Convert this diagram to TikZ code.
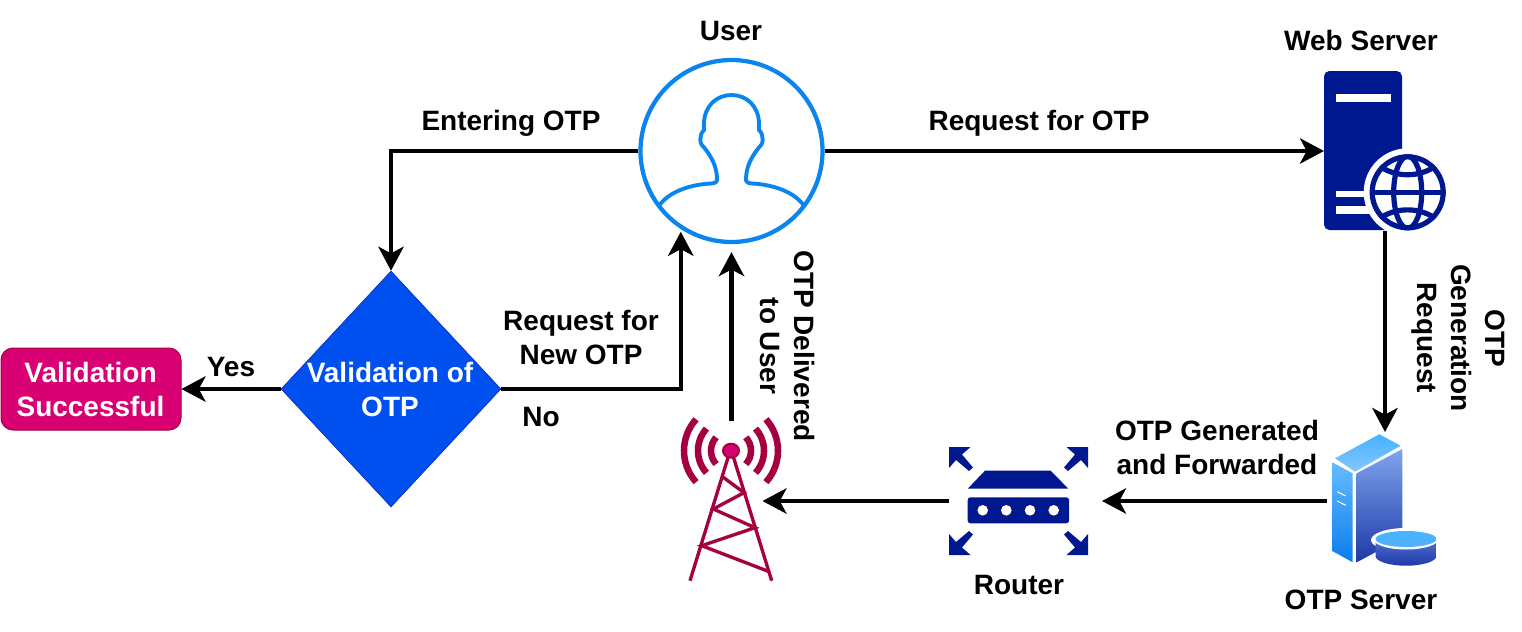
\documentclass[tikz,border=0pt]{standalone}
\usepackage{fontspec}
\setmainfont{Liberation Sans}
\usepackage{xcolor}
\usetikzlibrary{arrows.meta,shapes.geometric}
\definecolor{iconblue}{HTML}{00188F}
\definecolor{userblue}{HTML}{0A85F0}
\definecolor{towerred}{HTML}{A50040}
\definecolor{towerpink}{HTML}{D80073}
\definecolor{diamondblue}{HTML}{0050EF}
\definecolor{diamondline}{HTML}{001DBC}
\definecolor{skytop}{HTML}{45B4FF}
\definecolor{skylow}{HTML}{86C5FF}
\definecolor{paneltop}{HTML}{66BBFF}
\definecolor{panellow}{HTML}{0A7DF0}
\definecolor{sidetop}{HTML}{7FA5EC}
\definecolor{sidemid}{HTML}{4F70CF}
\definecolor{sidelow}{HTML}{1F38A8}
\tikzset{
  conn/.style={line width=3.2pt, -{Stealth[length=18pt,width=19pt,inset=5pt]}},
  lbl/.style={font=\bfseries\fontsize{21}{25.5}\selectfont, align=center, inner sep=0pt},
  icon/.style={inner sep=0pt, outer sep=0pt},
}

\begin{document}
\begin{tikzpicture}[x=0.75pt, y=-0.75pt]
\useasboundingbox (0,0) rectangle (1522,632);

\node[circle, draw=userblue, fill=white, line width=3.2pt, inner sep=0pt, minimum size=136.5pt] (user) at (731.5,151) {};
\begin{scope}[shift={(731.5,151)}, draw=userblue, line width=2.9pt]
\draw (-72,54) .. controls (-60,38) and (-35,33) .. (-20,32.5)
  .. controls (-15,32) and (-14,30) .. (-14.5,27)
  .. controls (-15,15) and (-20,6) .. (-27,-3)
  .. controls (-32,-6) and (-33,-16) .. (-27.5,-21)
  -- (-27.5,-28) .. controls (-27,-45) and (-15,-56) .. (0,-56)
  .. controls (15,-56) and (27,-45) .. (27.5,-28) -- (27.5,-21)
  .. controls (33,-16) and (32,-6) .. (27,-3)
  .. controls (20,6) and (15,15) .. (14.5,27)
  .. controls (14,30) and (15,32) .. (20,32.5)
  .. controls (35,33) and (60,38) .. (72,54);
\end{scope}

% web server
\node[icon, minimum width=91.5pt, minimum height=119.25pt] (webserver) at (1385,151) {};
\fill[iconblue, rounded corners=4pt] (1324,230) -- (1324,71) -- (1402,71) -- (1402,230) -- cycle;
\fill[white] (1336,94.3) rectangle (1391,101.7);
\fill[white] (1336,190.7) rectangle (1375,197.3);
\fill[white] (1336,206) rectangle (1375,214);
\fill[white] (1407.7,192.3) circle[radius=44];
\begin{scope}
\clip (1407.7,192.3) circle[radius=38];
\draw[iconblue, line width=3.9pt] (1407.7,192.3) ellipse[x radius=14, y radius=36];
\draw[iconblue, line width=3.9pt] (1370,192.3) -- (1446,192.3);
\draw[iconblue, line width=3.9pt] (1378,165) .. controls (1395,178) and (1420,178) .. (1437,165);
\draw[iconblue, line width=3.9pt] (1378,219.6) .. controls (1395,206.6) and (1420,206.6) .. (1437,219.6);
\end{scope}
\draw[iconblue, line width=3.9pt] (1407.7,192.3) circle[radius=35.5];

% otp server
\node[icon, minimum width=87pt, minimum height=103.5pt] (otpserver) at (1385,501) {};
\shade[top color=skytop, bottom color=skylow] (1335,458.3) -- (1379.3,434.3) -- (1400.7,445.7) -- (1355,471.7) -- cycle;
\shade[top color=paneltop, bottom color=panellow] (1332.3,462.3) -- (1352.7,473.3) -- (1352.7,562.3) -- (1332.3,551) -- cycle;
\shade[top color=sidetop, middle color=sidemid, bottom color=sidelow] (1356.7,473.3) -- (1402.3,449) -- (1402.3,538) -- (1356.7,562.3) -- cycle;
\draw[white, line width=0.8pt] (1337.3,491.7) -- (1345.7,496);
\draw[white, line width=0.8pt] (1337.3,501) -- (1345.7,505.3);
\fill[white] (1406,540) ellipse[x radius=35, y radius=12];
\shade[top color=sidemid, bottom color=sidelow] (1375.5,540) -- (1375.5,556) arc[start angle=180, end angle=0, x radius=30.5, y radius=9.7] -- (1436.5,540) -- cycle;
\fill[white] (1406,539.5) ellipse[x radius=32, y radius=10];
\shade[top color=skytop, bottom color=skytop!75!sidetop] (1406,539) ellipse[x radius=30.5, y radius=8];

% router
\node[icon, minimum width=104.25pt, minimum height=81pt] (router) at (1018.5,501) {};
\fill[iconblue] (985,470.7) -- (1050.7,470.7) -- (1068.3,488.7) -- (967.7,488.7) -- cycle;
\fill[iconblue, rounded corners=2pt] (967.7,497.3) rectangle (1069,523.3);
\foreach \dotx in {982.7,1006.3,1030,1053.7} {
  \fill[white] (\dotx,510.3) circle[radius=5.3];
}
\foreach \sx/\sy in {1/1,-1/1,1/-1,-1/-1} {
  \begin{scope}[shift={(1018.5,501)}, xscale=\sx, yscale=\sy]
  \fill[iconblue] (-69.5,-54) -- ++(21.5,0) -- ++(-8.5,7.5) -- ++(11,13) -- ++(-4,3.5) -- ++(-13,-11) -- ++(-7,8) -- cycle;
  \end{scope}
}

% tower
\node[icon, minimum width=46.5pt, minimum height=120pt] (tower) at (731.5,501) {};
\foreach \r in {20,33,47} {
  \draw[towerred, line width=4.9pt] ([shift={(138:\r)}]731,450.7) arc[start angle=138, end angle=222, radius=\r];
  \draw[towerred, line width=4.9pt] ([shift={(-42:\r)}]731,450.7) arc[start angle=-42, end angle=42, radius=\r];
}
\draw[towerred, line width=2.5pt] (728.3,456.7) -- (690,580.7);
\draw[towerred, line width=2.5pt] (733.3,456.7) -- (771.7,580.7);
\draw[towerred, line width=2.5pt] (723.3,477.3) -- (744,492.7) -- (713.3,509) -- (755,527.7) -- (701.7,545.7) -- (769.3,571.7);
\draw[towerred, fill=towerpink, line width=1.5pt] (731,450.7) ellipse[x radius=8, y radius=7];

\node[diamond, draw=diamondline, fill=diamondblue, aspect=0.93, inner sep=0pt, minimum width=165pt, minimum height=177pt] (validation) at (391,389) {};
\node[lbl, white] (validationtext) at (390,389) {Validation of\\OTP};
\node[draw=towerred, fill=towerpink, line width=0.75pt, rounded corners=9pt, inner sep=0pt, minimum width=135pt, minimum height=61.5pt] (success) at (91,389) {};
\node[lbl, white] (successtext) at (90.5,389) {Validation\\Successful};

\draw[conn] (user.west) -| (validation.north);
\draw[conn] (user.east) -- (webserver.west);
\draw[conn] (webserver.south) -- (otpserver.north);
\draw[conn, shorten >=10.5pt] (otpserver.west) -- (router.east);
\draw[conn] (router.west) -- (tower.east);
\draw[conn, shorten >=6pt] (tower.north) -- (user.south);
\draw[conn] (validation.west) -- (success.east);
\draw[conn, shorten >=2pt] (validation.east) -| (user.237);

\node[lbl] (userlabel) at (731,31) {User};
\node[lbl] (weblabel) at (1361,40) {Web Server};
\node[lbl] (enterlabel) at (511,123) {Entering OTP};
\node[lbl] (requestlabel) at (1039,123) {Request for OTP};
\node[lbl] (newlabel) at (581,337) {Request for\\New OTP};
\node[lbl] (nolabel) at (541,417) {No};
\node[lbl] (yeslabel) at (231,367) {Yes};
\node[lbl, rotate=-90] (deliveredlabel) at (788,346) {OTP Delivered\\to User};
\node[lbl, rotate=-90] (generationlabel) at (1458,338) {OTP\\Generation\\Request};
\node[lbl] (forwardlabel) at (1217,447) {OTP Generated\\and Forwarded};
\node[lbl] (routerlabel) at (1019,585) {Router};
\node[lbl] (serverlabel) at (1361,600) {OTP Server};

\end{tikzpicture}
\end{document}
